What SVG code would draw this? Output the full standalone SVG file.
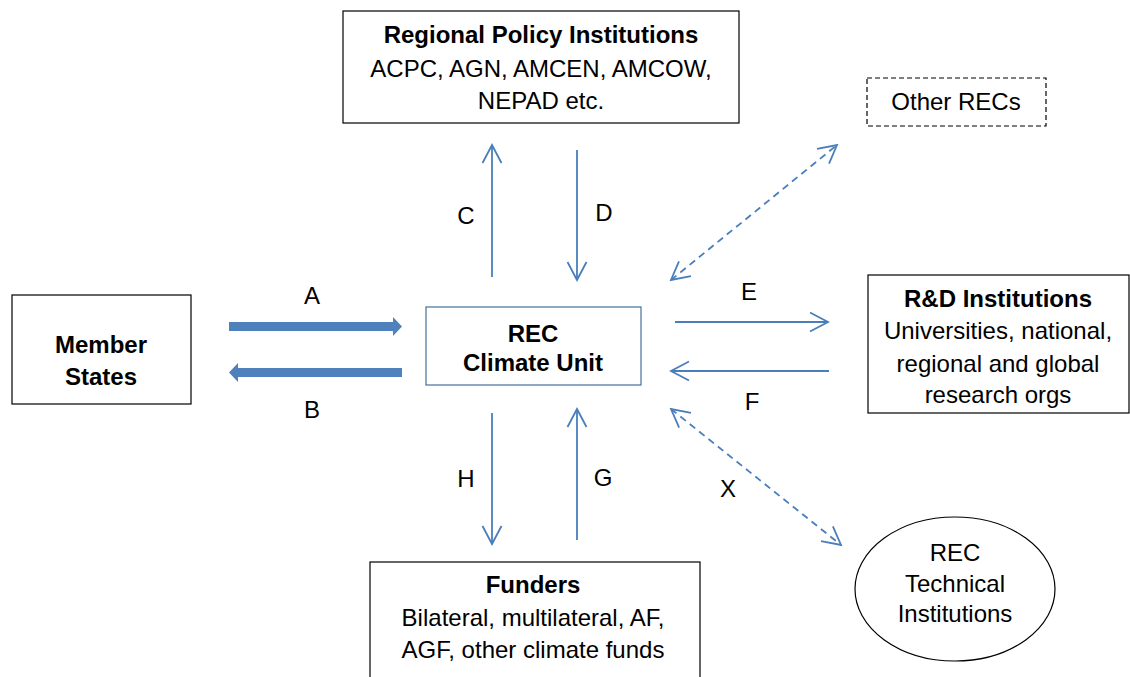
<svg xmlns="http://www.w3.org/2000/svg" width="1130" height="677" viewBox="0 0 1130 677">
<style>
text{font-family:"Liberation Sans",Arial,sans-serif;font-size:24px;fill:#000;text-anchor:middle}
.b{font-weight:bold}
.box{fill:#fff;stroke:#000;stroke-width:1.2}
.thin{fill:none;stroke:#4A7EBB;stroke-width:1.8}
.dash{stroke-dasharray:7 5}
.thick{fill:#4F81BD;stroke:none}
</style>
<defs>
<marker id="ah" markerUnits="userSpaceOnUse" viewBox="-22 -12 24 24" refX="0" refY="0" markerWidth="24" markerHeight="24" orient="auto-start-reverse">
<path d="M -18 -9.5 L 0 0 L -18 9.5" fill="none" stroke="#4A7EBB" stroke-width="1.8" stroke-dasharray="none"/>
</marker>
</defs>
<g id="regional-policy">
<rect class="box" x="343" y="11" width="396" height="112"/>
<text class="b" x="541" y="43">Regional Policy Institutions</text>
<text x="541" y="77">ACPC, AGN, AMCEN, AMCOW,</text>
<text x="541" y="109">NEPAD etc.</text>
</g>
<g id="other-recs">
<rect x="867" y="78" width="179" height="48" fill="#fff" stroke="#000" stroke-width="1.2" stroke-dasharray="5 3"/>
<text x="956" y="110">Other RECs</text>
</g>
<g id="member-states">
<rect class="box" x="12" y="295" width="179" height="109"/>
<text class="b" x="101" y="353">Member</text>
<text class="b" x="101" y="385">States</text>
</g>
<g id="rec-climate-unit">
<rect x="426" y="307" width="215" height="78" fill="#fff" stroke="#41719C" stroke-width="1.2"/>
<text class="b" x="533" y="342">REC</text>
<text class="b" x="533" y="371">Climate Unit</text>
</g>
<g id="rd-institutions">
<rect class="box" x="868" y="275" width="261" height="138"/>
<text class="b" x="998" y="307">R&amp;D Institutions</text>
<text x="998" y="339">Universities, national,</text>
<text x="998" y="372">regional and global</text>
<text x="998" y="403">research orgs</text>
</g>
<g id="funders">
<rect class="box" x="370" y="562" width="330" height="125"/>
<text class="b" x="533" y="593">Funders</text>
<text x="533" y="626">Bilateral, multilateral, AF,</text>
<text x="533" y="658">AGF, other climate funds</text>
</g>
<g id="rec-technical">
<ellipse cx="955" cy="589" rx="100" ry="72" fill="#fff" stroke="#000" stroke-width="1.2"/>
<text x="955" y="561">REC</text>
<text x="955" y="592">Technical</text>
<text x="955" y="622">Institutions</text>
</g>
<g id="connectors">
<polygon class="thick" points="229,322 393,322 393,317 402,326.5 393,336 393,331 229,331"/>
<polygon class="thick" points="402,368 238,368 238,363 229,372.5 238,382 238,377 402,377"/>
<line class="thin" x1="492" y1="277" x2="492" y2="145" marker-end="url(#ah)"/>
<line class="thin" x1="577" y1="150" x2="577" y2="280" marker-end="url(#ah)"/>
<line class="thin" x1="492" y1="413" x2="492" y2="544" marker-end="url(#ah)"/>
<line class="thin" x1="577" y1="540" x2="577" y2="409" marker-end="url(#ah)"/>
<line class="thin" x1="675" y1="322" x2="828" y2="322" marker-end="url(#ah)"/>
<line class="thin" x1="829" y1="371" x2="671" y2="371" marker-end="url(#ah)"/>
<line class="thin dash" x1="671" y1="280" x2="837" y2="145" marker-start="url(#ah)" marker-end="url(#ah)"/>
<line class="thin dash" x1="671" y1="409" x2="841" y2="545" marker-start="url(#ah)" marker-end="url(#ah)"/>
</g>
<g id="labels">
<text x="312" y="304">A</text>
<text x="312" y="418">B</text>
<text x="466" y="224">C</text>
<text x="604" y="221">D</text>
<text x="749" y="300">E</text>
<text x="752" y="410">F</text>
<text x="603" y="486">G</text>
<text x="466" y="487">H</text>
<text x="728" y="497">X</text>
</g>
</svg>
